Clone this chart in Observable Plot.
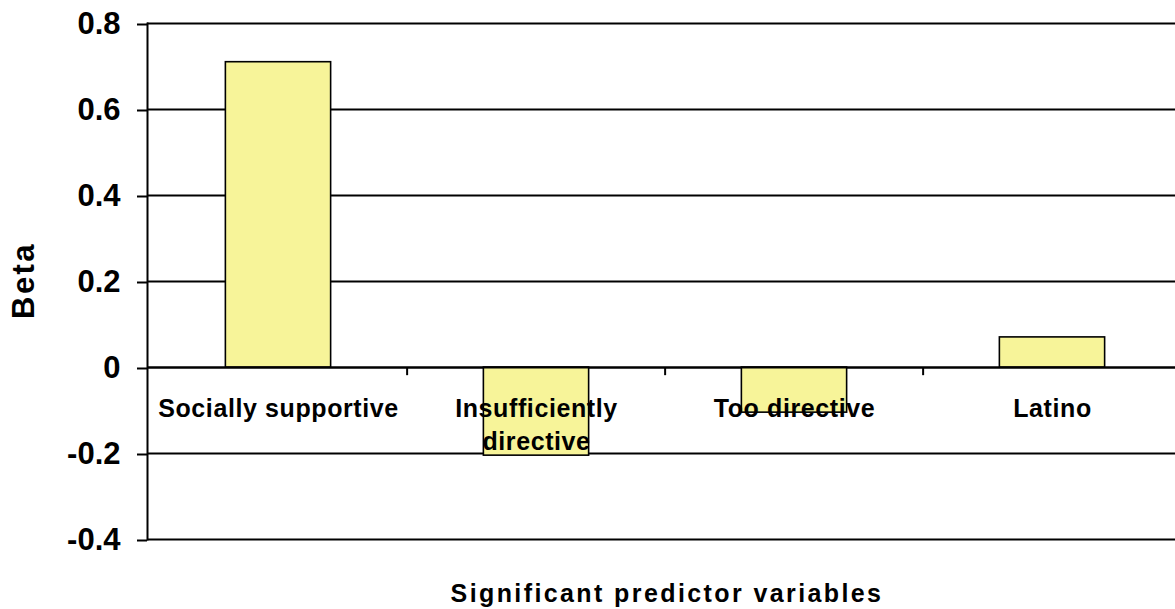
<!DOCTYPE html>
<html>
<head>
<meta charset="utf-8">
<script src="https://cdn.jsdelivr.net/npm/d3@7"></script>
<script src="https://cdn.jsdelivr.net/npm/@observablehq/plot@0.6"></script>
<style>
  html, body { margin: 0; padding: 0; background: #fff; overflow: hidden; }
  #chart svg { display: block; }
</style>
</head>
<body>
<div id="chart"></div>
<script>
const categories = ["Socially supportive", "Insufficiently directive", "Too directive", "Latino"];
const categoryLabels = ["Socially supportive", "Insufficiently\ndirective", "Too directive", "Latino"];
const betaValues = [0.71, -0.205, -0.105, 0.07];
const yTicks = [-0.4, -0.2, 0, 0.2, 0.4, 0.6, 0.8];
const xTitle = "Significant predictor variables";
const yTitle = "Beta";

const data = categories.map((c, i) => ({cat: c, label: categoryLabels[i], value: betaValues[i]}));

const width = 1175, height = 609;
const marginLeft = 147, marginRight = -7, marginTop = 23, marginBottom = 70;
const step = (width - marginLeft - marginRight) / categories.length;
const barWidth = 106;
const inset = (step - barWidth) / 2;
const font = "Arial, 'Liberation Sans', sans-serif";

const chart = Plot.plot({
  width, height, marginLeft, marginRight, marginTop, marginBottom,
  style: {fontFamily: font, color: "#000", background: "#fff", overflow: "hidden"},
  x: {domain: categories, padding: 0, axis: null},
  y: {domain: [-0.4, 0.8], axis: null},
  marks: [
    Plot.gridY(yTicks, {stroke: "#000", strokeOpacity: 1, strokeWidth: 2}),
    Plot.barY(data, {x: "cat", y: "value", fill: "#f7f499", stroke: "#000", strokeWidth: 1.6, insetLeft: inset, insetRight: inset}),
    Plot.ruleY([0], {stroke: "#000", strokeWidth: 2}),
    Plot.ruleX(categories.slice(1), {x: d => d, y1: 0, y2: -0.019, dx: -step / 2, stroke: "#000", strokeWidth: 2}),
    Plot.frame({anchor: "left", stroke: "#000", strokeWidth: 2}),
    Plot.axisY(yTicks, {
      tickFormat: d => String(+d.toFixed(1)),
      tickSize: 10, tickPadding: 17, fontSize: 31, fontWeight: "bold",
      stroke: "#000", strokeWidth: 2, label: null, dy: 1
    }),
    Plot.text(data, {
      x: "cat", y: 0, text: "label", lineAnchor: "top", dy: 26,
      fontSize: 25, fontWeight: "bold", lineHeight: 1.32, fill: "#000"
    }),
    Plot.text([xTitle], {frameAnchor: "bottom", textAnchor: "middle", x: null, dy: 62, dx: 2, fontSize: 25, fontWeight: "bold", fill: "#000"}),
    Plot.text([yTitle], {frameAnchor: "left", textAnchor: "middle", rotate: -90, dx: -123, dy: -1, fontSize: 31, fontWeight: "bold", fill: "#000"})
  ]
});

document.getElementById("chart").appendChild(chart);

d3.select(chart).selectAll("text").each(function() {
  const t = this.textContent;
  if (t === xTitle || t === yTitle) d3.select(this).attr("letter-spacing", "2.4px");
  else if (categoryLabels.some(l => l.replace("\n", "") === t.replace(/\s+/g, "") || l.split("\n").includes(t))) d3.select(this).attr("letter-spacing", "0.6px");
});
</script>
</body>
</html>
